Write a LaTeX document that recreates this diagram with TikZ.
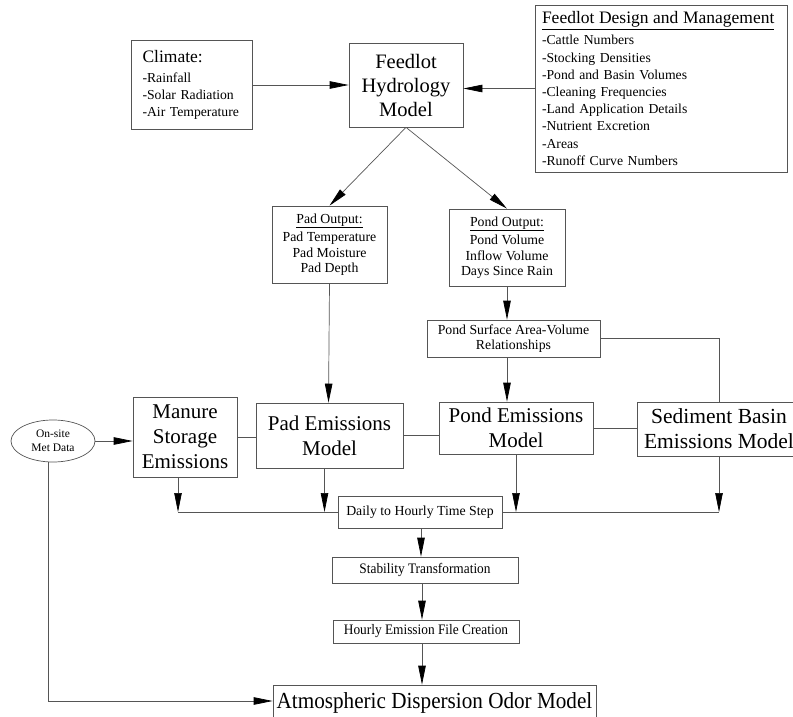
\documentclass[tikz,border=0pt]{standalone}
\usepackage{fontspec}
\setmainfont{Liberation Serif}
\newfontfamily\narrowserif[FakeStretch=0.92]{Liberation Serif}
\usetikzlibrary{arrows.meta, positioning, shapes.geometric, calc}

\definecolor{linegray}{HTML}{555555}

\begin{document}
\begin{tikzpicture}[
    x=1pt, y=-1pt,
    box/.style={draw=linegray, line width=0.7pt, inner sep=2pt, align=center, fill=white},
    bigbox/.style={box, font=\fontsize{20.5}{24}\selectfont},
    smallbox/.style={box, font=\fontsize{13.8}{15.5}\selectfont},
    listbox/.style={box, align=left, font=\fontsize{13.7}{17.2}\selectfont},
    arrow/.style={-{Triangle[length=19pt,width=7.5pt,color=black]}, draw=linegray, line width=0.7pt},
    link/.style={draw=linegray, line width=0.7pt},
]
    \useasboundingbox (0,0) rectangle (793,717);

    % Inputs
    \node[listbox, minimum width=121pt, minimum height=89pt, text width=98pt] (climate) at (191.5,85)
        {{\fontsize{17.5}{21}\selectfont Climate:}\\[2pt]-Rainfall\\-Solar Radiation\\-Air Temperature};
    \node[bigbox, minimum width=114pt, minimum height=84pt] (hydro) at (406,85) {Feedlot\\Hydrology\\Model};
    \node[listbox, minimum width=252pt, minimum height=167pt, text width=238pt] (design) at (661,88.5)
        {{\fontsize{17.5}{20}\selectfont\underline{Feedlot Design and Management}}\\[4pt]-Cattle Numbers\\-Stocking Densities\\-Pond and Basin Volumes\\-Cleaning Frequencies\\-Land Application Details\\-Nutrient Excretion\\-Areas\\-Runoff Curve Numbers};

    % Hydrology outputs
    \node[smallbox, minimum width=115pt, minimum height=77pt] (padout) at (329.5,244.5)
        {\underline{Pad Output:}\\[3pt]Pad Temperature\\Pad Moisture\\Pad Depth};
    \node[smallbox, minimum width=116pt, minimum height=77pt] (pondout) at (507,247.5)
        {\underline{Pond Output:}\\[3pt]Pond Volume\\Inflow Volume\\Days Since Rain};
    \node[smallbox, minimum width=173pt, minimum height=37pt] (surface) at (513.5,338.5)
        {Pond Surface Area-Volume\\Relationships};

    % Emission models
    \node[draw=linegray, line width=0.7pt, ellipse, minimum width=84pt, minimum height=42pt, inner sep=0pt,
        align=center, font=\fontsize{11.5}{14}\selectfont] (met) at (53,441) {On-site\\Met Data};
    \node[bigbox, font=\fontsize{21}{25}\selectfont, minimum width=104pt, minimum height=80pt] (manure) at (185,437)
        {Manure\\Storage\\Emissions};
    \node[bigbox, font=\fontsize{21}{25}\selectfont, minimum width=147pt, minimum height=65pt] (pademis) at (329.5,435.5)
        {Pad Emissions\\Model};
    \node[bigbox, font=\fontsize{21}{25}\selectfont, minimum width=154pt, minimum height=52pt] (pondemis) at (516,428)
        {Pond Emissions\\Model};
    \node[bigbox, font=\fontsize{21.5}{25}\selectfont, minimum width=164pt, minimum height=54pt, inner sep=0pt] (sediment) at (719,429)
        {Sediment Basin\\Emissions Model};

    % Post-processing
    \node[smallbox, minimum width=164pt, minimum height=32pt] (daily) at (420,512)
        {Daily to Hourly Time Step};
    \node[smallbox, font=\narrowserif\fontsize{14.5}{16}\selectfont, minimum width=186pt, minimum height=26pt] (stability) at (425,570)
        {Stability Transformation};
    \node[smallbox, font=\narrowserif\fontsize{14.5}{16}\selectfont, minimum width=186pt, minimum height=23pt] (hourly) at (426,631.5)
        {Hourly Emission File Creation};
    \node[bigbox, font=\narrowserif\fontsize{23}{26}\selectfont, minimum width=323pt, minimum height=36pt] (atmos) at (434.5,703)
        {Atmospheric Dispersion Odor Model};

    % Connections to hydrology
    \draw[arrow] (climate.east) -- (climate.east -| hydro.west);
    \draw[arrow] (design.west) -- (design.west -| hydro.east);
    \draw[arrow] (hydro.south) -- (padout.north);
    \draw[arrow] (hydro.south) -- (pondout.north);

    % Outputs to models
    \draw[arrow] (padout.south) -- ([xshift=-1pt]pademis.north);
    \draw[arrow] (pondout.south) -- (pondout.south |- surface.north);
    \draw[arrow] (surface.south -| pondout.south) -- (pondemis.north -| pondout.south);
    \draw[link] (surface.east) -| (sediment.north);
    \draw[arrow] (met.east) -- (met.east -| manure.west);
    \draw[link] (manure.east) -- (manure.east -| pademis.west);
    \draw[link] (pademis.east) -- (pademis.east -| pondemis.west);
    \draw[link] (pondemis.east) -- (pondemis.east -| sediment.west);

    % Models to time step
    \coordinate (busl) at ([xshift=-7pt]manure.south |- daily.west);
    \coordinate (busr) at (sediment.south |- daily.east);
    \draw[arrow] ([xshift=-7pt]manure.south) -- (busl);
    \draw[arrow] ([xshift=-5pt]pademis.south) -- ([xshift=-5pt]pademis.south |- daily.west);
    \draw[arrow] (pondemis.south) -- (pondemis.south |- daily.east);
    \draw[arrow] (sediment.south) -- (busr);
    \draw[link] (busl) -- (daily.west);
    \draw[link] (daily.east) -- (busr);

    % Time step to dispersion model
    \draw[arrow] ([xshift=1pt]daily.south) -- ([xshift=1pt]daily.south |- stability.north);
    \draw[arrow] ([xshift=-3pt]stability.south) -- ([xshift=-3pt]stability.south |- hourly.north);
    \draw[arrow] ([xshift=-4pt]hourly.south) -- ([xshift=-4pt]hourly.south |- atmos.north);
    \draw[arrow] ([xshift=-5pt]met.south) |- ([yshift=2pt]atmos.west);
\end{tikzpicture}
\end{document}
